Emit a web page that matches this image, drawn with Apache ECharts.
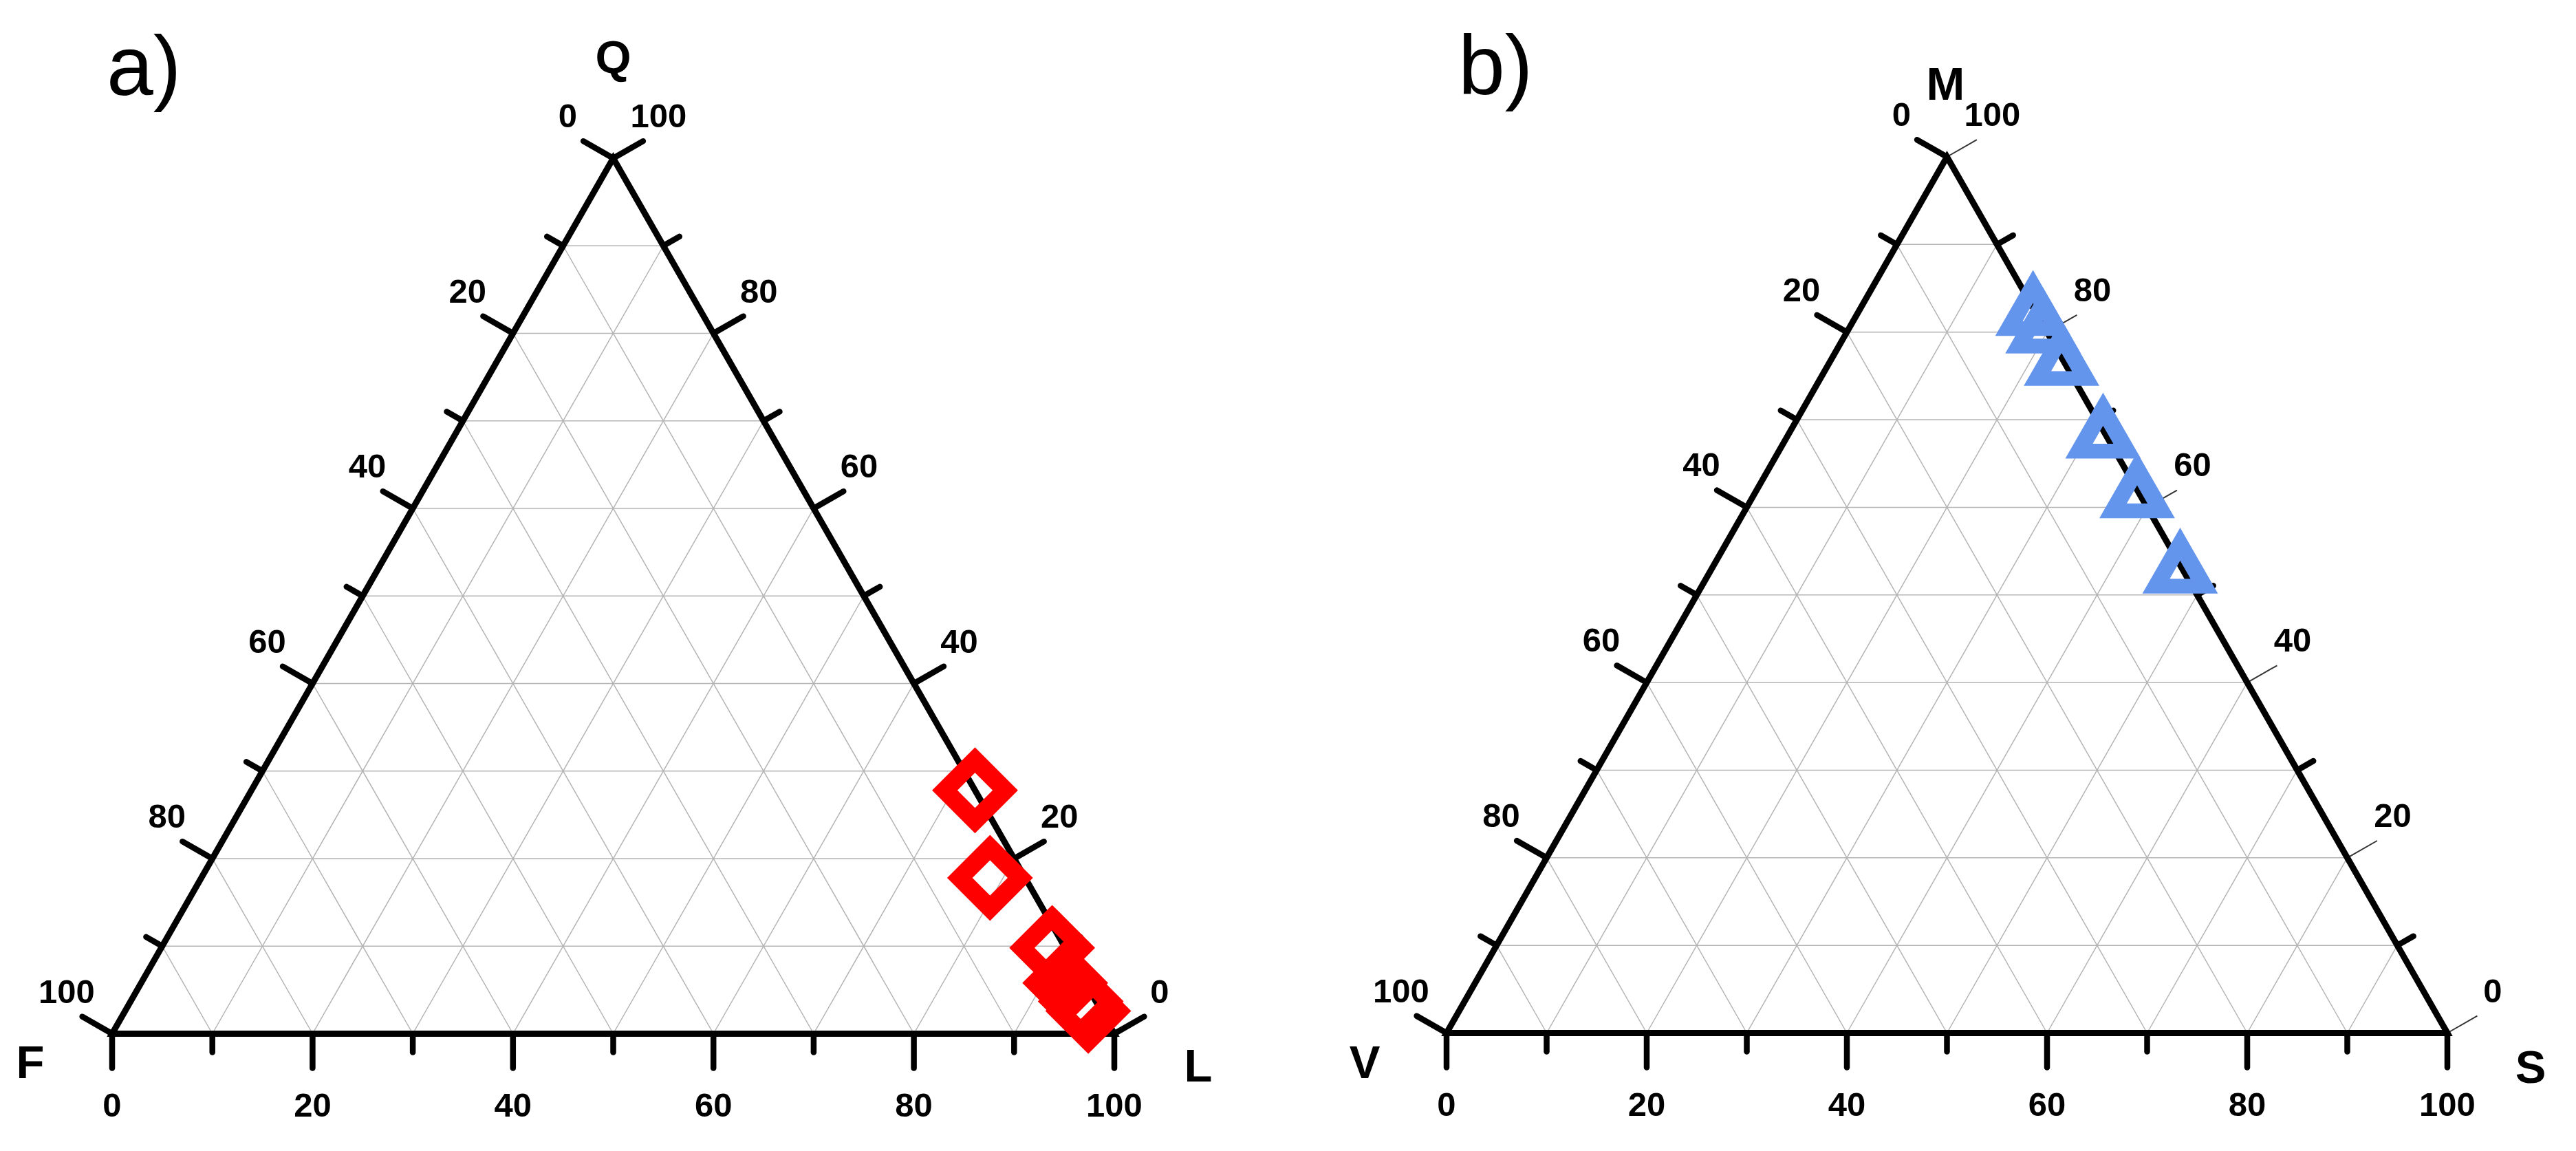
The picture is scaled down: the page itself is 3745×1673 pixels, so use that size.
<!DOCTYPE html>
<html>
<head>
<meta charset="utf-8">
<title>Ternary diagrams</title>
<script src="https://cdn.jsdelivr.net/npm/echarts@6.0.0/dist/echarts.min.js"></script>
<style>
html, body { margin: 0; padding: 0; background: #ffffff; }
#chart { width: 3745px; height: 1673px; }
</style>
</head>
<body>
<div id="chart"></div>
<script>
// ---------------- data ----------------
const tickValues = [0, 10, 20, 30, 40, 50, 60, 70, 80, 90, 100];
const tickLabels = ['0', '20', '40', '60', '80', '100'];

const panelTitles = ['a)', 'b)'];
const apexNamesA = ['Q', 'F', 'L'];   // top, left, right
const apexNamesB = ['M', 'V', 'S'];   // top, left, right

// Panel a: Q – F – L (%)
const qA = [27.8, 17.8, 9.8, 5.8, 3.7, 2.6];
const fA = [0.0, 3.5, 1.3, 2.0, 1.5, 1.3];
const lA = [72.2, 78.7, 88.9, 92.2, 94.8, 96.1];

// Panel b: M – V – S (%)
const mB = [82.8, 80.8, 77.1, 68.8, 62.0, 53.4];
const vB = [0.0, 0.0, 0.0, 0.0, 0.0, 0.0];
const sB = [17.2, 19.2, 22.9, 31.2, 38.0, 46.6];

// ---------------- helpers ----------------
// ternary (top, left, right) -> cartesian (x along base 0..100, y height 0..100)
function toXY(top, left, right) {
  const s = top + left + right;
  const t = top / s * 100, r = right / s * 100;
  return [r + t / 2, t];
}

const LABEL_FONT = 'bold 49px "Liberation Sans", Arial, sans-serif';
const NAME_FONT = 'bold 67px "Liberation Sans", Arial, sans-serif';

function makeText(str, x, y, font) {
  return {
    type: 'text', z2: 20, silent: true,
    style: { text: str, x: x, y: y, fill: '#000', font: font, align: 'center', verticalAlign: 'middle' }
  };
}
function makeLine(p, q, style, z2) {
  return { type: 'line', z2: z2, silent: true,
    shape: { x1: p[0], y1: p[1], x2: q[0], y2: q[1] }, style: style };
}

function panelRenderer(cfg) {
  return function (params, api) {
    const v = api.value(0);
    const C = (p) => api.coord(p);
    const out = [];
    const A = C([0, 0]), B = C([100, 0]), T = C([50, 100]);
    const unit = (dx, dy) => { const n = Math.hypot(dx, dy); return [dx / n, dy / n]; };
    const dl = unit(T[0] - A[0], T[1] - A[1]);
    const nLeft = [dl[1], -dl[0]];
    const dr = unit(T[0] - B[0], T[1] - B[1]);
    const nRight = [-dr[1], dr[0]];

    const gridStyle = { stroke: '#b4b4b4', lineWidth: 1.5 };
    if (v > 0 && v < 100) {
      out.push(makeLine(C([v / 2, v]), C([100 - v / 2, v]), gridStyle, 1));
      out.push(makeLine(C([v, 0]), C([v + (100 - v) / 2, 100 - v]), gridStyle, 1));
      out.push(makeLine(C([100 - v, 0]), C([(100 - v) / 2, 100 - v]), gridStyle, 1));
    }

    const labelIdx = tickLabels.indexOf(String(v));
    const major = labelIdx >= 0;
    const len = major ? 50 : 27;
    const thick = { stroke: '#000', lineWidth: 8.5, lineCap: 'round' };
    const thin = { stroke: '#333', lineWidth: 2 };

    const pb = C([v, 0]);                       // bottom axis
    const pl = C([(100 - v) / 2, 100 - v]);     // left axis
    const pr = C([100 - v / 2, v]);             // right axis
    out.push(makeLine(pb, [pb[0], pb[1] + len], thick, 10));
    out.push(makeLine(pl, [pl[0] + nLeft[0] * len, pl[1] + nLeft[1] * len], thick, 10));
    out.push(makeLine(pr, [pr[0] + nRight[0] * len, pr[1] + nRight[1] * len],
      (major && cfg.thinRightMajor) ? thin : thick, 10));

    if (major) {
      const txt = tickLabels[labelIdx];
      out.push(makeText(txt, pb[0], pb[1] + 103, LABEL_FONT));
      out.push(makeText(txt, pl[0] - 66, pl[1] - 62, LABEL_FONT));
      out.push(makeText(txt, pr[0] + 66, pr[1] - 62, LABEL_FONT));
    }

    if (v === 0) {
      out.push({
        type: 'polygon', z2: 12, silent: true,
        shape: { points: [A, B, T] },
        style: { fill: 'none', stroke: '#000', lineWidth: 9, lineJoin: 'miter', miterLimit: 10 }
      });
      const o = cfg.nameOffsets;
      out.push(makeText(cfg.names[0], T[0] + o[0][0], T[1] + o[0][1], NAME_FONT));
      out.push(makeText(cfg.names[1], A[0] + o[1][0], A[1] + o[1][1], NAME_FONT));
      out.push(makeText(cfg.names[2], B[0] + o[2][0], B[1] + o[2][1], NAME_FONT));
    }
    return { type: 'group', children: out };
  };
}

const chart = echarts.init(document.getElementById('chart'), null, { renderer: 'svg' });

const hiddenAxis = (i) => ({ type: 'value', min: 0, max: 100, show: false, gridIndex: i });

chart.setOption({
  animation: false,
  backgroundColor: '#ffffff',
  grid: [
    { left: 163, top: 230, width: 1457, height: 1272.5, outerBoundsMode: 'none' },
    { left: 2103, top: 228, width: 1455, height: 1273.5, outerBoundsMode: 'none' }
  ],
  xAxis: [hiddenAxis(0), hiddenAxis(1)],
  yAxis: [hiddenAxis(0), hiddenAxis(1)],
  graphic: [
    { type: 'text', x: 155, y: 96, silent: true,
      style: { text: panelTitles[0], font: '122px "Liberation Sans", Arial, sans-serif', fill: '#000', align: 'left', verticalAlign: 'middle' } },
    { type: 'text', x: 2120, y: 95, silent: true,
      style: { text: panelTitles[1], font: '122px "Liberation Sans", Arial, sans-serif', fill: '#000', align: 'left', verticalAlign: 'middle' } }
  ],
  series: [
    {
      type: 'custom', coordinateSystem: 'cartesian2d', xAxisIndex: 0, yAxisIndex: 0,
      clip: false, silent: true, z: 1,
      data: tickValues.map(v => [v, 0]),
      renderItem: panelRenderer({
        names: apexNamesA, thinRightMajor: false,
        nameOffsets: [[0, -148], [-119, 41], [122, 46]]
      })
    },
    {
      type: 'custom', coordinateSystem: 'cartesian2d', xAxisIndex: 1, yAxisIndex: 1,
      clip: false, silent: true, z: 1,
      data: tickValues.map(v => [v, 0]),
      renderItem: panelRenderer({
        names: apexNamesB, thinRightMajor: true,
        nameOffsets: [[-2, -107], [-119, 42], [121, 49]]
      })
    },
    {
      type: 'scatter', xAxisIndex: 0, yAxisIndex: 0, z: 5, silent: true,
      symbol: 'diamond', symbolSize: 88,
      itemStyle: { color: 'rgba(0,0,0,0)', borderColor: '#ff0000', borderWidth: 26,
        borderJoin: 'miter', borderMiterLimit: 10, opacity: 1 },
      emphasis: { disabled: true },
      data: qA.map((q, i) => toXY(q, fA[i], lA[i]))
    },
    {
      type: 'scatter', xAxisIndex: 1, yAxisIndex: 1, z: 5, silent: true,
      symbol: 'triangle', symbolSize: [70, 61],
      itemStyle: { color: 'rgba(0,0,0,0)', borderColor: '#6495ed', borderWidth: 23,
        borderJoin: 'miter', borderMiterLimit: 10, opacity: 1 },
      emphasis: { disabled: true },
      data: mB.map((m, i) => toXY(m, vB[i], sB[i]))
    }
  ]
});
</script>
</body>
</html>
